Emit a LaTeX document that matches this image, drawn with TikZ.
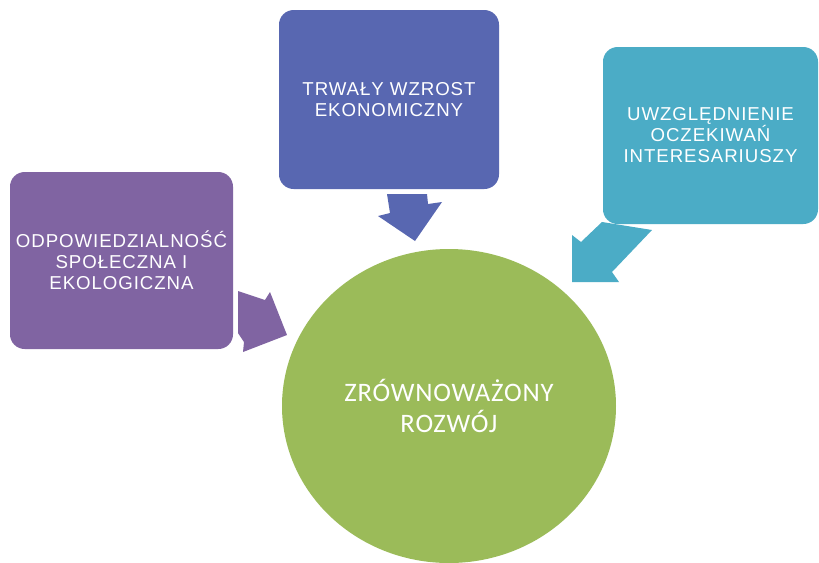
\documentclass[tikz,border=0pt]{standalone}
\usepackage{fontspec}
\setmainfont{Liberation Sans}
\newfontfamily\boxfont[LetterSpace=5]{Liberation Sans}
\newfontfamily\carl[LetterSpace=3]{Carlito}
\usetikzlibrary{shapes.geometric}
\definecolor{cpurple}{HTML}{8064A2}
\definecolor{cblue}{HTML}{5867B1}
\definecolor{cteal}{HTML}{4BACC6}
\definecolor{cgreen}{HTML}{9BBB59}
\tikzset{
  boxstyle/.style={rectangle, rounded corners=11pt, inner sep=0pt, text=white, align=center,
    font=\boxfont\fontsize{14}{15.8}\selectfont}
}
\begin{document}
\begin{tikzpicture}[x=0.75pt,y=-0.75pt]
\fill[white] (0,0) rectangle (819,562);
\useasboundingbox (0,0) rectangle (819,562);
% boxes
\node[boxstyle, fill=cpurple, minimum width=167.25pt, minimum height=132.75pt] (odp) at (121.5,260.5)
  {ODPOWIEDZIALNOŚĆ\\SPOŁECZNA I\\EKOLOGICZNA};
\node[boxstyle, fill=cblue, minimum width=165pt, minimum height=134.25pt] (trw) at (389,99.5)
  {TRWAŁY WZROST\\EKONOMICZNY};
\node[boxstyle, fill=cteal, minimum width=161.25pt, minimum height=132.75pt] (uwz) at (710.5,135.5)
  {UWZGLĘDNIENIE\\OCZEKIWAŃ\\INTERESARIUSZY};
% central circle
\node[ellipse, fill=cgreen, inner sep=0pt, minimum width=250.5pt, minimum height=235.5pt,
  text=white, align=center, font=\carl\fontsize{20}{23}\selectfont] (zr) at (449,406)
  {ZRÓWNOWAŻONY\\ROZWÓJ};
% block arrows
\fill[cblue] (387,194) -- (427,194) -- (428,204) -- (442,202) -- (415,241) -- (378,216) -- (390,213) -- cycle;
\fill[cteal] (602,222) -- (652,230) -- (612,272) -- (619,282) -- (572,282) -- (572,235) -- (581,242) -- cycle;
\fill[cpurple] (238,291) -- (265,300) -- (270,292) -- (287,335) -- (243,352) -- (244,342) -- (238,333) -- cycle;
\end{tikzpicture}
\end{document}
